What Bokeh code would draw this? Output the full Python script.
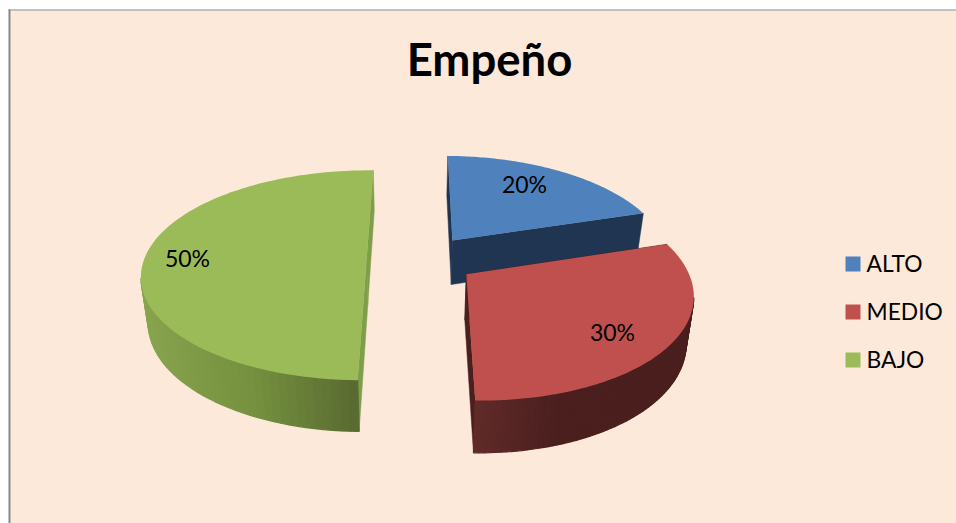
import numpy as np
from bokeh.plotting import figure
from bokeh.models import Range1d, ColumnDataSource
from bokeh.core.properties import value
from bokeh.embed import file_html
from bokeh.resources import INLINE

# ---- data ----
categories = ["ALTO", "MEDIO", "BAJO"]
values = [20, 30, 50]
title_text = "Empeño"

# ---- style / layout ----
top_colors = ["#4f81bd", "#c0504d", "#9bbb59"]
cut_colors = ["#1f3552", "#4a1f1e", "#7f9e4a"]
rim_stops = [
    [(0.0, "#1f3552"), (1.0, "#1f3552")],
    [(0.0, "#612b29"), (0.4, "#4a1f1e"), (1.0, "#4a1f1e")],
    [(0.0, "#88a44e"), (0.5, "#75903f"), (1.0, "#55652f")],
]
CX, CY, A, B, K = 391.0, 259.0, 226.0, 102.6, 0.15
ROT = np.radians(1.0)
DEPTH, SHRINK, SHRINK_X = 45.0, 0.027, 410.0
offsets = [(0.277, 0.19), (0.324, -0.14), (-0.11, 0.0)]
radii_x = [0.96, 0.965, 0.985]
label_pos = [(524, 183.5), (612, 331.5), (187, 257)]
bg = "#fde9d9"
border = "#868686"


def project(X, Y):
    w = 1 + K * Y
    return CX + A * X / w, CY - B * Y / w


def extrude(sx, sy, Y):
    return sx - (sx - SHRINK_X) * SHRINK, sy + DEPTH / (1 + K * Y) ** 0.8


def hex2rgb(h):
    return np.array([int(h[i:i + 2], 16) for i in (1, 3, 5)], float)


def lerp(stops, t):
    pos = [s[0] for s in stops]
    rgb = np.array([hex2rgb(s[1]) for s in stops])
    c = [np.interp(t, pos, rgb[:, i]) for i in range(3)]
    return "#%02x%02x%02x" % tuple(int(round(v)) for v in c)


p = figure(width=956, height=523, output_backend="svg", toolbar_location=None,
           x_range=Range1d(0, 956), y_range=Range1d(523, 0),
           min_border=0, outline_line_color=None,
           background_fill_color="white", border_fill_color="white")
p.axis.visible = False
p.grid.visible = False

# chart frame
p.quad(left=10, right=956, top=10, bottom=523, fill_color=bg, line_color=None)
p.quad(left=8, right=10, top=9, bottom=523, fill_color=border, line_color=None)
p.quad(left=8, right=956, top=9, bottom=10, fill_color=border, line_color=None)

# exploded 3-D pie built from the values
total = sum(values)
edges = np.cumsum([0] + values) / total * 2 * np.pi + ROT
for i in range(len(values)):
    ox, oy = offsets[i]
    rx = radii_x[i]
    phi = np.linspace(edges[i], edges[i + 1], 90)
    Y = oy + np.cos(phi)
    ax_, ay_ = project(ox, oy)
    sx, sy = project(ox + rx * np.sin(phi), Y)
    bx, by = extrude(sx, sy, Y)
    abx, aby = extrude(ax_, ay_, oy)

    # flat cut faces
    for j in (0, -1):
        p.patch([ax_, sx[j], bx[j], abx], [ay_, sy[j], by[j], aby],
                fill_color=cut_colors[i], line_color=cut_colors[i], line_width=0.5)

    # curved rim as a shaded strip (only the part that faces the viewer)
    lo, hi = bx.min(), bx.max()
    if i == 2:
        ts = (bx - lo) / (hi - lo)
    else:
        ts = (bx - bx[-1]) / max(hi - bx[-1], 1)
    xs, ys, cols = [], [], []
    for n in range(len(phi) - 1):
        if sx[n + 1] >= sx[n]:
            continue
        xs.append([sx[n], sx[n + 1], bx[n + 1], bx[n]])
        ys.append([sy[n], sy[n + 1], by[n + 1], by[n]])
        cols.append(lerp(rim_stops[i], float(np.clip(ts[n], 0, 1))))
    if xs:
        p.patches("xs", "ys", source=ColumnDataSource(dict(xs=xs, ys=ys, c=cols)),
                  fill_color="c", line_color="c", line_width=1.2)

    # top face
    p.patch(np.r_[ax_, sx], np.r_[ay_, sy], fill_color=top_colors[i], line_color=None)

# data labels
p.text(x=[q[0] for q in label_pos], y=[q[1] for q in label_pos],
       text=["%d%%" % (v / total * 100) for v in values],
       text_font=value("Lato"), text_font_size="23px", text_color="black",
       text_align="center", text_baseline="middle")

# title
p.text(x=[489], y=[58], text=[title_text], text_font=value("Lato"),
       text_font_size="45.5px", text_font_style="bold", text_color="black",
       text_align="center", text_baseline="middle")

# legend
leg_y = [263.5, 311.5, 359.5]
leg_text_y = [262, 310, 358]
p.rect(x=[852.5] * 3, y=leg_y, width=15, height=15, fill_color=top_colors, line_color=None)
p.text(x=[866] * 3, y=leg_text_y, text=categories, text_font=value("Lato"),
       text_font_size="22.8px", text_color="black", text_align="left", text_baseline="middle")

open("out.html", "w").write(file_html(p, INLINE))
